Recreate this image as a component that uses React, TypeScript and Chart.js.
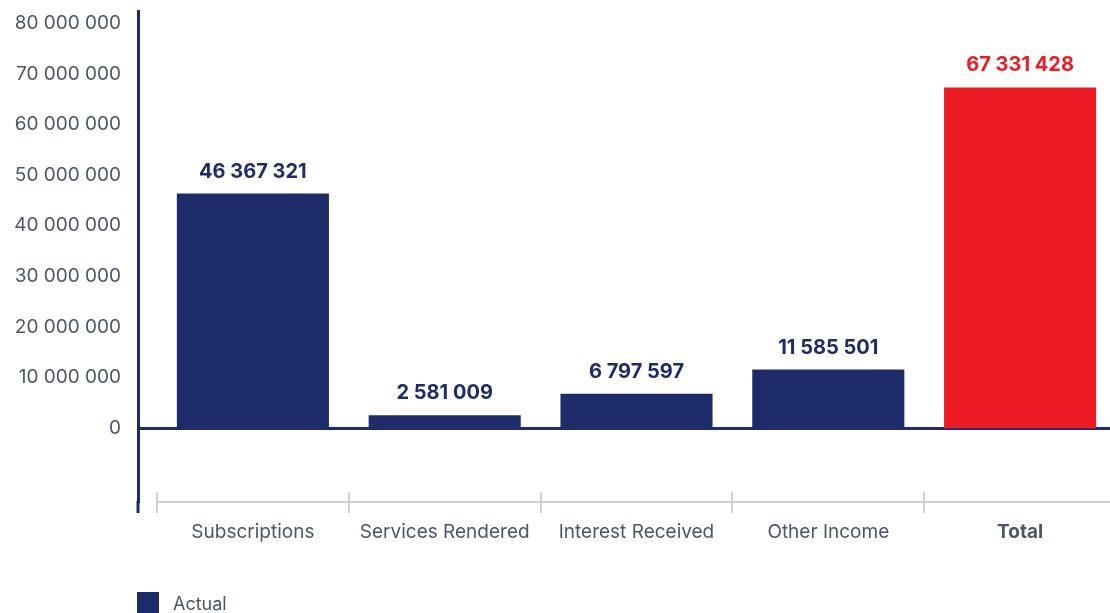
import React, { useEffect, useRef } from 'react';
import { Chart, registerables } from 'chart.js';

Chart.register(...registerables);

const categories = ['Subscriptions', 'Services Rendered', 'Interest Received', 'Other Income', 'Total'];
const actualValues = [46367321, 2581009, 6797597, 11585501, 67331428];
const barColors = ['#1e2d69', '#1e2d69', '#1e2d69', '#1e2d69', '#ed1c24'];
const seriesLabel = 'Actual';
const yTickValues = [0, 10000000, 20000000, 30000000, 40000000, 50000000, 60000000, 70000000, 80000000];
const Y_MIN = -14580000;
const Y_MAX = 82360000;

const NAVY = '#1e2d69';
const TEXT = '#4b5768';
const GREY = '#cfd0d8';
const FONT = 'Inter';

const fmt = (n: number) => String(Math.round(n)).replace(/\B(?=(\d{3})+(?!\d))/g, ' ');

const extras = {
  id: 'extras',
  afterDraw(chart: any) {
    const { ctx, chartArea } = chart;
    const x = chart.scales.x;
    const y = chart.scales.y;
    ctx.save();
    const n = categories.length;
    const w = (x.right - x.left) / n;
    ctx.strokeStyle = GREY;
    ctx.lineWidth = 2;
    for (let i = 0; i < n; i++) {
      const px = Math.round(x.getPixelForValue(i) - w / 2);
      ctx.beginPath();
      ctx.moveTo(px, chartArea.bottom - 10);
      ctx.lineTo(px, chartArea.bottom);
      ctx.stroke();
    }
    ctx.strokeStyle = NAVY;
    ctx.lineWidth = 3;
    ctx.beginPath();
    ctx.moveTo(y.right, chartArea.bottom - 1);
    ctx.lineTo(y.right, chartArea.bottom + 11);
    ctx.stroke();
    ctx.restore();
  },
  afterDatasetsDraw(chart: any) {
    const { ctx } = chart;
    const meta = chart.getDatasetMeta(0);
    ctx.save();
    ctx.font = `bold 20px ${FONT}`;
    ctx.textAlign = 'center';
    ctx.textBaseline = 'middle';
    meta.data.forEach((bar: any, i: number) => {
      ctx.fillStyle = barColors[i];
      ctx.fillText(fmt(actualValues[i]), bar.x, bar.y - 22);
    });
    ctx.restore();
  },
};

export default function App() {
  const ref = useRef<HTMLCanvasElement>(null);
  useEffect(() => {
    if (!ref.current) return;
    const chart = new Chart(ref.current, {
      type: 'bar',
      data: {
        labels: categories,
        datasets: [
          {
            label: seriesLabel,
            data: actualValues,
            backgroundColor: barColors,
            categoryPercentage: 1,
            barPercentage: 0.793,
            yAxisID: 'y',
          },
        ],
      },
      options: {
        animation: false,
        responsive: true,
        maintainAspectRatio: false,
        layout: { padding: { top: 10, left: 0, right: 0, bottom: 0 } },
        plugins: { legend: { display: false }, tooltip: { enabled: false } },
        scales: {
          x: {
            offset: true,
            grid: { display: true, drawOnChartArea: false, offset: true, tickLength: 11, color: GREY, lineWidth: 2 },
            border: { display: true, color: GREY, width: 2 },
            ticks: {
              color: TEXT,
              padding: 8,
              font: (c: any) => ({ family: FONT, size: 19, weight: c.index === 4 ? 'bold' : 'normal' }),
            },
            afterFit: (s: any) => { s.height = 54; },
          },
          y: {
            position: 'left',
            weight: 1,
            min: Y_MIN,
            max: Y_MAX,
            afterBuildTicks: (s: any) => {
              s.ticks = [{ value: Y_MIN }, ...yTickValues.map((v) => ({ value: v })), { value: Y_MAX }];
            },
            grid: { display: false, drawTicks: true, tickLength: 17 },
            border: { display: true, color: NAVY, width: 3 },
            ticks: {
              autoSkip: false,
              color: TEXT,
              padding: 0,
              font: { family: FONT, size: 19 },
              callback: (v: any) => (yTickValues.includes(Number(v)) ? fmt(Number(v)) : ''),
            },
            afterFit: (s: any) => { s.width = 138; },
          },
          y2: {
            position: 'left',
            weight: 0,
            min: Y_MIN,
            max: Y_MAX,
            afterBuildTicks: (s: any) => {
              s.ticks = [{ value: 0 }];
            },
            grid: {
              display: true,
              drawOnChartArea: true,
              drawTicks: true,
              tickLength: 19,
              color: NAVY,
              lineWidth: 3,
            },
            border: { display: false },
            ticks: { display: false, padding: 0 },
            afterFit: (s: any) => { s.width = 19; },
          },
        },
      },
      plugins: [extras],
    });
    return () => chart.destroy();
  }, []);

  return (
    <div style={{ position: 'fixed', left: 0, top: 0, width: 1116, height: 613, background: '#fff' }}>
      <div style={{ position: 'absolute', left: 0, top: 0, width: 1116, height: 556 }}>
        <canvas ref={ref} />
      </div>
      <div
        style={{
          position: 'absolute',
          left: 137,
          top: 592,
          display: 'flex',
          alignItems: 'center',
          fontFamily: FONT,
          fontSize: 18,
          color: TEXT,
        }}
      >
        <span style={{ display: 'inline-block', width: 22, height: 22, background: NAVY, marginRight: 14 }} />
        <span>{seriesLabel}</span>
      </div>
    </div>
  );
}
